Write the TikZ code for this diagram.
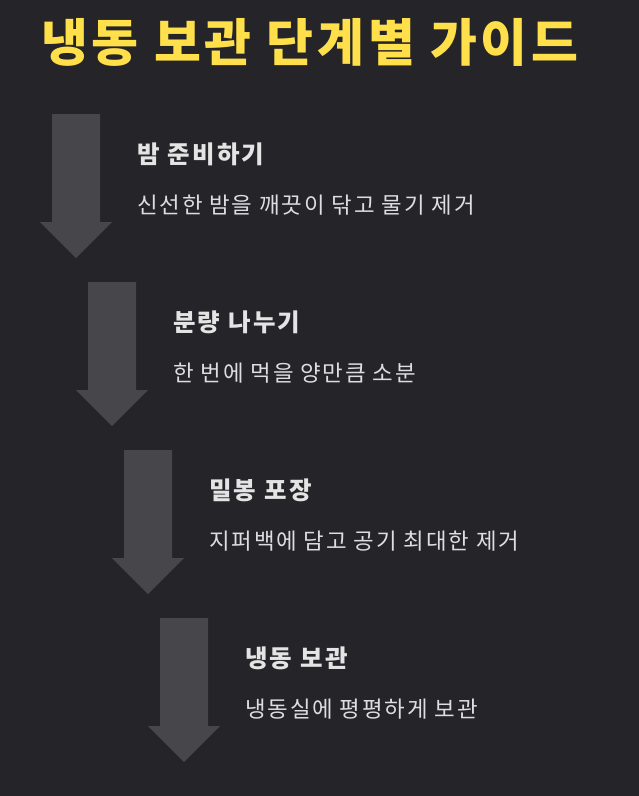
\documentclass[tikz,border=0pt]{standalone}
\usepackage{fontspec}
\setmainfont{Noto Sans CJK KR}
\newfontfamily\ktitle{Noto Sans CJK KR}[LetterSpace=7.2]
\newfontfamily\khead{Noto Sans CJK KR}[LetterSpace=9]
\newfontfamily\kdesc{Noto Sans CJK KR}[LetterSpace=8.2]
\definecolor{bgc}{HTML}{252429}
\definecolor{arrowc}{HTML}{47464B}
\definecolor{titlec}{HTML}{FFE04A}
\definecolor{headc}{HTML}{E4E4E4}
\definecolor{descc}{HTML}{DEDEDE}
\tikzset{
  titletext/.style={inner sep=0pt, anchor=base west, text=titlec, font=\ktitle\fontsize{51}{60}\selectfont\bfseries},
  headtext/.style={inner sep=0pt, anchor=base west, text=headc, font=\khead\fontsize{24.5}{29}\selectfont\bfseries},
  desctext/.style={inner sep=0pt, anchor=base west, text=descc, font=\kdesc\fontsize{22.4}{27}\selectfont},
  downarrow/.style={fill=arrowc, draw=none}
}
\begin{document}
\begin{tikzpicture}[x=1pt,y=-1pt]
\fill[bgc] (0,0) rectangle (639,796);
\useasboundingbox (0,0) rectangle (639,796);
\node[titletext] (title) at (41,61) {냉동 보관 단계별 가이드};
\foreach \i in {0,1,2,3}{
  \begin{scope}[shift={(36*\i,168*\i)}]
    \fill[downarrow] (52,114) -- (100,114) -- (100,222) -- (112,222) -- (76,258) -- (40,222) -- (52,222) -- cycle;
  \end{scope}
}
\node[headtext] (h1) at (137,163) {밤 준비하기};
\node[desctext] (d1) at (137,213) {신선한 밤을 깨끗이 닦고 물기 제거};
\node[headtext] (h2) at (173,331) {분량 나누기};
\node[desctext] (d2) at (173,381) {한 번에 먹을 양만큼 소분};
\node[headtext] (h3) at (209,499) {밀봉 포장};
\node[desctext] (d3) at (209,549) {지퍼백에 담고 공기 최대한 제거};
\node[headtext] (h4) at (245,667) {냉동 보관};
\node[desctext] (d4) at (245,717) {냉동실에 평평하게 보관};
\end{tikzpicture}
\end{document}
